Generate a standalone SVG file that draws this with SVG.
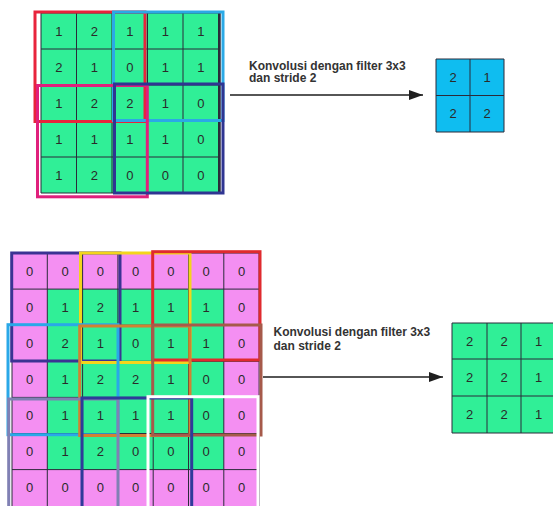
<svg xmlns="http://www.w3.org/2000/svg" width="553" height="506" viewBox="0 0 553 506">
  <style>
    .bg { fill: #ffffff; }
    .green { fill: #30ef97; }
    .pink { fill: #f48ff2; }
    .cyan { fill: #0fbdf0; }
    .grid { stroke: #2b2b3a; stroke-width: 1; fill: none; }
    .num { font-family: "Liberation Sans", Arial, sans-serif; font-size: 13px; fill: #2a2a2a; text-anchor: middle; }
    .label { font-family: "Liberation Sans", Arial, sans-serif; font-size: 12px; font-weight: bold; fill: #333333; }
    .win { fill: none; stroke-width: 3; }
    .conn { stroke: #1e1e1e; stroke-width: 1.6; fill: none; }
  </style>
  <defs>
    <marker id="head" viewBox="0 0 14 10" refX="14" refY="5" markerWidth="14" markerHeight="10" markerUnits="userSpaceOnUse" orient="auto">
      <path d="M0,0 L14,5 L0,10 Z" fill="#1e1e1e"/>
    </marker>
  </defs>
  <rect class="bg" x="0" y="0" width="553" height="506"/>

  <!-- 5x5 input, stride-2 windows -->
  <g id="input-5x5">
    <rect class="green" x="41" y="13" width="177.5" height="180"/>
    <path class="grid" d="M41,13 H218.5 V193 H41 Z M76.5,13 V193 M112,13 V193 M147.5,13 V193 M183,13 V193 M41,49 H218.5 M41,85 H218.5 M41,121 H218.5 M41,157 H218.5"/>
    <line x1="219.5" y1="13" x2="219.5" y2="193" stroke="#2b2b3a" stroke-width="2.5"/>
    <g class="num">
      <text x="58.8" y="35.5">1</text><text x="94.3" y="35.5">2</text><text x="129.8" y="35.5">1</text><text x="165.3" y="35.5">1</text><text x="200.8" y="35.5">1</text>
      <text x="58.8" y="71.5">2</text><text x="94.3" y="71.5">1</text><text x="129.8" y="71.5">0</text><text x="165.3" y="71.5">1</text><text x="200.8" y="71.5">1</text>
      <text x="58.8" y="107.5">1</text><text x="94.3" y="107.5">2</text><text x="129.8" y="107.5">2</text><text x="165.3" y="107.5">1</text><text x="200.8" y="107.5">0</text>
      <text x="58.8" y="143.5">1</text><text x="94.3" y="143.5">1</text><text x="129.8" y="143.5">1</text><text x="165.3" y="143.5">1</text><text x="200.8" y="143.5">0</text>
      <text x="58.8" y="179.5">1</text><text x="94.3" y="179.5">2</text><text x="129.8" y="179.5">0</text><text x="165.3" y="179.5">0</text><text x="200.8" y="179.5">0</text>
    </g>
    <rect class="win" x="35" y="12" width="110" height="109.5" stroke="#e8243c"/>
    <rect class="win" x="113.5" y="12" width="109.5" height="108.5" stroke="#2ba9e6"/>
    <rect class="win" x="37.5" y="85.5" width="109.8" height="111.3" stroke="#e0207c"/>
    <rect class="win" x="114.5" y="84" width="108.5" height="109" stroke="#2f3592"/>
  </g>

  <!-- 2x2 output -->
  <g id="output-2x2">
    <rect class="cyan" x="436" y="59" width="68" height="73"/>
    <path class="grid" d="M436,59 H504 V132 H436 Z M470,59 V132 M436,95.5 H504"/>
    <g class="num">
      <text x="453" y="81.5">2</text><text x="487" y="81.5">1</text>
      <text x="453" y="118">2</text><text x="487" y="118">2</text>
    </g>
  </g>

  <g id="label-top">
    <text class="label" x="249" y="69.8">Konvolusi dengan filter 3x3</text>
    <text class="label" x="249" y="82.3">dan stride 2</text>
  </g>

  <!-- 7x7 zero-padded input, stride-2 windows -->
  <g id="input-7x7">
    <rect class="pink" x="12" y="253" width="247.1" height="253"/>
    <rect class="green" x="47.3" y="289.1" width="176.5" height="180.5"/>
    <path class="grid" d="M12,253 H259.1 V506 M12,253 V506 M47.3,253 V506 M82.6,253 V506 M117.9,253 V506 M153.2,253 V506 M188.5,253 V506 M223.8,253 V506 M12,289.1 H259.1 M12,325.2 H259.1 M12,361.3 H259.1 M12,397.4 H259.1 M12,433.5 H259.1 M12,469.6 H259.1"/>
    <g class="num">
      <text x="29.7" y="275.6">0</text><text x="65" y="275.6">0</text><text x="100.3" y="275.6">0</text><text x="135.6" y="275.6">0</text><text x="170.9" y="275.6">0</text><text x="206.2" y="275.6">0</text><text x="241.5" y="275.6">0</text>
      <text x="29.7" y="311.7">0</text><text x="65" y="311.7">1</text><text x="100.3" y="311.7">2</text><text x="135.6" y="311.7">1</text><text x="170.9" y="311.7">1</text><text x="206.2" y="311.7">1</text><text x="241.5" y="311.7">0</text>
      <text x="29.7" y="347.8">0</text><text x="65" y="347.8">2</text><text x="100.3" y="347.8">1</text><text x="135.6" y="347.8">0</text><text x="170.9" y="347.8">1</text><text x="206.2" y="347.8">1</text><text x="241.5" y="347.8">0</text>
      <text x="29.7" y="383.9">0</text><text x="65" y="383.9">1</text><text x="100.3" y="383.9">2</text><text x="135.6" y="383.9">2</text><text x="170.9" y="383.9">1</text><text x="206.2" y="383.9">0</text><text x="241.5" y="383.9">0</text>
      <text x="29.7" y="420">0</text><text x="65" y="420">1</text><text x="100.3" y="420">1</text><text x="135.6" y="420">1</text><text x="170.9" y="420">1</text><text x="206.2" y="420">0</text><text x="241.5" y="420">0</text>
      <text x="29.7" y="456.1">0</text><text x="65" y="456.1">1</text><text x="100.3" y="456.1">2</text><text x="135.6" y="456.1">0</text><text x="170.9" y="456.1">0</text><text x="206.2" y="456.1">0</text><text x="241.5" y="456.1">0</text>
      <text x="29.7" y="492.2">0</text><text x="65" y="492.2">0</text><text x="100.3" y="492.2">0</text><text x="135.6" y="492.2">0</text><text x="170.9" y="492.2">0</text><text x="206.2" y="492.2">0</text><text x="241.5" y="492.2">0</text>
    </g>
    <rect class="win" x="11.7" y="253" width="108.3" height="108" stroke="#3b3393"/>
    <rect class="win" x="80.5" y="253" width="109.5" height="109.5" stroke="#f3d51c"/>
    <rect class="win" x="152.7" y="251.7" width="107.3" height="108.3" stroke="#e02a2e"/>
    <rect class="win" x="8" y="324.7" width="110" height="110" stroke="#2aa8e8"/>
    <rect class="win" x="79.7" y="326" width="110.3" height="109.5" stroke="#d08232"/>
    <rect class="win" x="152.7" y="325" width="108.3" height="110" stroke="#a65a4a"/>
    <rect class="win" x="8.7" y="399" width="109.3" height="110" stroke="#8080b4"/>
    <rect class="win" x="82" y="398" width="109.7" height="111" stroke="#2f3a9a"/>
    <rect class="win" x="148" y="396.7" width="110" height="112" stroke="#ffffff"/>
  </g>

  <!-- 3x3 output -->
  <g id="output-3x3">
    <rect class="green" x="452" y="323" width="104" height="110"/>
    <path class="grid" d="M556,323 H452 V433 H556 M487,323 V433 M521,323 V433 M452,359 H556 M452,396 H556"/>
    <g class="num">
      <text x="469.5" y="345.5">2</text><text x="504" y="345.5">2</text><text x="538.5" y="345.5">1</text>
      <text x="469.5" y="382">2</text><text x="504" y="382">2</text><text x="538.5" y="382">1</text>
      <text x="469.5" y="419">2</text><text x="504" y="419">2</text><text x="538.5" y="419">1</text>
    </g>
  </g>

  <g id="label-bottom">
    <text class="label" x="273.5" y="336.3">Konvolusi dengan filter 3x3</text>
    <text class="label" x="273.5" y="349.5">dan stride 2</text>
  </g>

  <g id="connectors">
    <line class="conn" x1="230" y1="95" x2="423" y2="95" marker-end="url(#head)"/>
    <line class="conn" x1="263" y1="377" x2="443" y2="377" marker-end="url(#head)"/>
  </g>
</svg>
